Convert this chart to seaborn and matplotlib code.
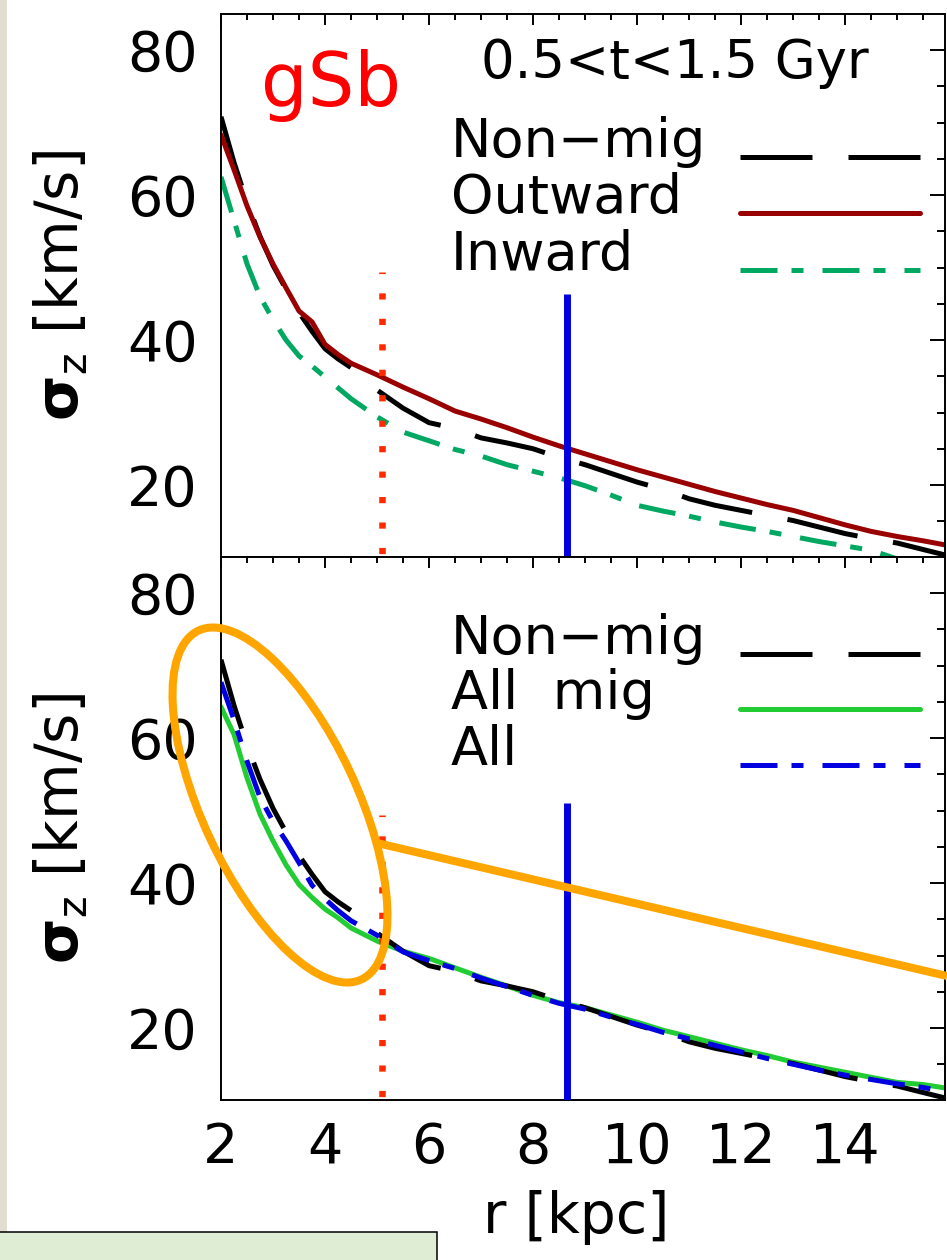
import matplotlib
matplotlib.use("Agg")
import matplotlib.pyplot as plt
import seaborn as sns
from matplotlib.patches import Ellipse, Rectangle
from matplotlib.lines import Line2D
from matplotlib.ticker import MultipleLocator

# Radial bins [kpc]
r_kpc = [2.0, 2.25, 2.5, 2.75, 3.0, 3.25, 3.5, 3.75, 4.0, 4.25, 4.5, 5.0, 5.5,
         6.0, 6.5, 7.0, 7.5, 8.0, 8.5, 9.0, 9.5, 10.0, 10.5, 11.0, 11.5, 12.0,
         12.5, 13.0, 13.5, 14.0, 14.5, 15.0, 15.5, 15.95]

# Vertical velocity dispersion sigma_z [km/s], stars with 0.5 < t < 1.5 Gyr
sig_nonmig = [70.8, 64.5, 59.0, 54.3, 50.3, 47.0, 43.8, 41.2, 38.8, 37.4, 36.2,
              33.1, 30.6, 28.6, 27.8, 26.5, 25.8, 25.0, 23.8, 22.8, 21.6, 20.4,
              19.4, 18.1, 17.2, 16.5, 15.8, 15.1, 14.2, 13.3, 12.6, 12.0, 11.1, 10.3]
sig_outward = [68.3, 63.5, 58.5, 54.2, 50.5, 47.2, 44.0, 42.5, 39.4, 38.0, 36.8,
               35.2, 33.5, 31.9, 30.2, 29.1, 27.9, 26.6, 25.4, 24.3, 23.2, 22.1,
               21.1, 20.1, 19.1, 18.2, 17.3, 16.5, 15.5, 14.5, 13.6, 12.9, 12.3, 11.7]
sig_inward = [62.5, 56.5, 50.5, 46.0, 42.8, 40.0, 37.8, 36.4, 34.9, 33.4, 31.9,
              29.4, 27.3, 26.1, 24.9, 24.0, 22.8, 21.9, 21.0, 19.9, 18.6, 17.2,
              16.4, 15.7, 14.9, 14.2, 13.6, 12.9, 12.2, 11.6, 11.0, 9.8, 9.0, 8.5]
sig_allmig = [64.3, 60.5, 54.5, 49.5, 45.8, 42.5, 39.8, 38.0, 36.4, 35.2, 33.8,
              32.0, 30.6, 29.6, 28.3, 27.0, 25.8, 24.5, 23.5, 22.8, 21.8, 20.8,
              19.7, 18.8, 17.9, 17.0, 16.2, 15.3, 14.6, 13.9, 13.2, 12.5, 12.2, 11.7]
sig_all = [67.7, 62.5, 56.8, 51.8, 48.5, 45.8, 42.8, 39.7, 37.8, 36.2, 34.8,
           32.8, 30.5, 29.3, 28.2, 26.9, 25.7, 24.5, 23.4, 22.6, 21.5, 20.5,
           19.4, 18.5, 17.6, 16.7, 15.8, 15.0, 14.2, 13.5, 12.9, 12.3, 11.8, 11.2]

# Reference radii and the heights of their markers
r_bar = 5.1
r_sun = 8.65
bar_top = 49.4
sun_top = [46.3, 51.0]

top_labels = ["Non\u2212mig", "Outward", "Inward"]
bottom_labels = ["Non\u2212mig", "All  mig", "All"]
x_ticks = [2, 4, 6, 8, 10, 12, 14]
y_ticks = [20, 40, 60, 80]

sns.set_theme(style="white")
plt.rcParams["font.family"] = ["DejaVu Sans"]
plt.rcParams["mathtext.fontset"] = "dejavusans"
plt.rcParams["text.color"] = "black"
plt.rcParams["axes.labelcolor"] = "black"
plt.rcParams["xtick.color"] = "black"
plt.rcParams["ytick.color"] = "black"

BLACK = "#000000"
DARKRED = "#990000"
TEAL = "#00A862"
LIME = "#22CC33"
BLUE = "#0000E0"
ORANGE = "#FFA500"

LW = 3.6
DASH = (0, (14.4, 7.2))
DASHDOT = (0, (7.4, 2.8, 2.4, 3.8))

fig = plt.figure(figsize=(9.47, 12.6), dpi=100)
ax1 = fig.add_axes([0.23337, 0.55794, 0.76452, 0.43095])
ax2 = fig.add_axes([0.23337, 0.12698, 0.76452, 0.43096])

def curve(ax, y, color, ls):
    sns.lineplot(x=r_kpc, y=y, ax=ax, color=color, linestyle=ls, linewidth=LW,
                 estimator=None, sort=False, legend=False, zorder=2)

curve(ax1, sig_inward, TEAL, DASHDOT)
curve(ax1, sig_nonmig, BLACK, DASH)
curve(ax1, sig_outward, DARKRED, "-")

curve(ax2, sig_allmig, LIME, "-")
curve(ax2, sig_nonmig, BLACK, DASH)
curve(ax2, sig_all, BLUE, DASHDOT)

for ax, stop in zip((ax1, ax2), sun_top):
    ax.set_xlim(2, 15.92)
    ax.set_ylim(10.07, 84.97)
    ax.vlines(r_bar, 0, bar_top, color="#FF2A00", lw=4.7,
              linestyles=[(0, (0.95, 2.95))], zorder=3)
    ax.vlines(r_sun, 0, stop, color=BLUE, lw=5.0, zorder=3)
    ax.xaxis.set_major_locator(MultipleLocator(2))
    ax.xaxis.set_minor_locator(MultipleLocator(0.5))
    ax.yaxis.set_major_locator(MultipleLocator(20))
    ax.yaxis.set_minor_locator(MultipleLocator(5))
    ax.set_yticks(y_ticks)
    ax.tick_params(axis="both", which="both", direction="in", top=True,
                   right=True, width=1.4, colors="black", labelsize=40)
    ax.tick_params(axis="y", which="major", length=10.8, pad=17)
    ax.tick_params(axis="y", which="minor", length=5.8)
    ax.tick_params(axis="x", which="major", length=8, pad=15)
    ax.tick_params(axis="x", which="minor", length=4.3)
    for sp in ax.spines.values():
        sp.set_linewidth(1.4)
        sp.set_color("black")
    ax.set_ylabel(r"$\mathbf{\sigma}_{\rm z}$ [km/s]", fontsize=42)
    ax.yaxis.set_label_coords(-0.181, 0.5)

ax1.set_xticks(x_ticks)
ax1.tick_params(axis="x", labelbottom=False)
ax2.set_xticks(x_ticks)
ax2.set_xlabel("r [kpc]", fontsize=41)
ax2.xaxis.set_label_coords(0.49, -0.165)

# Panel annotations
ax1.text(0.055, 0.8306, "gSb", transform=ax1.transAxes, color="#FF0000",
         fontsize=53, ha="left", va="baseline")
ax1.text(0.627, 0.882, "0.5<t<1.5 Gyr", transform=ax1.transAxes,
         fontsize=38, ha="center", va="baseline")

# Hand-built keys: label on the left, line sample on the right at the baseline
def key(ax, rows, labels, styles):
    for yy, lab, (c, ls) in zip(rows, labels, styles):
        ax.text(0.3177, yy, lab, transform=ax.transAxes, fontsize=39,
                ha="left", va="baseline")
        ax.add_line(Line2D([0.7169, 0.9655], [yy, yy], transform=ax.transAxes,
                           color=c, linestyle=ls, linewidth=LW))

key(ax1, [0.7366, 0.6335, 0.5285], top_labels,
    [(BLACK, DASH), (DARKRED, "-"), (TEAL, DASHDOT)])
key(ax2, [0.8214, 0.7201, 0.6169], bottom_labels,
    [(BLACK, DASH), (LIME, "-"), (BLUE, DASHDOT)])

# Zoom-in callout around the inner disc of the lower panel
fig.add_artist(Ellipse((2.80, 4.55), 3.85, 1.55, angle=-65,
                       transform=fig.dpi_scale_trans, fill=False,
                       ec=ORANGE, lw=5.8, zorder=5))
fig.add_artist(Line2D([3.77, 9.47], [4.17, 2.84], transform=fig.dpi_scale_trans,
                      color=ORANGE, lw=5.8, solid_capstyle="butt", zorder=5))

# Page margin decorations
fig.add_artist(Rectangle((0, 0.28), 0.07, 12.4, transform=fig.dpi_scale_trans,
                         color="#E2DDD0", lw=0, zorder=0))
fig.add_artist(Rectangle((-0.05, -0.05), 4.42, 0.33, transform=fig.dpi_scale_trans,
                         fc="#E0EDD5", ec="black", lw=1.1, zorder=0))

fig.savefig("out.png", dpi=100)
